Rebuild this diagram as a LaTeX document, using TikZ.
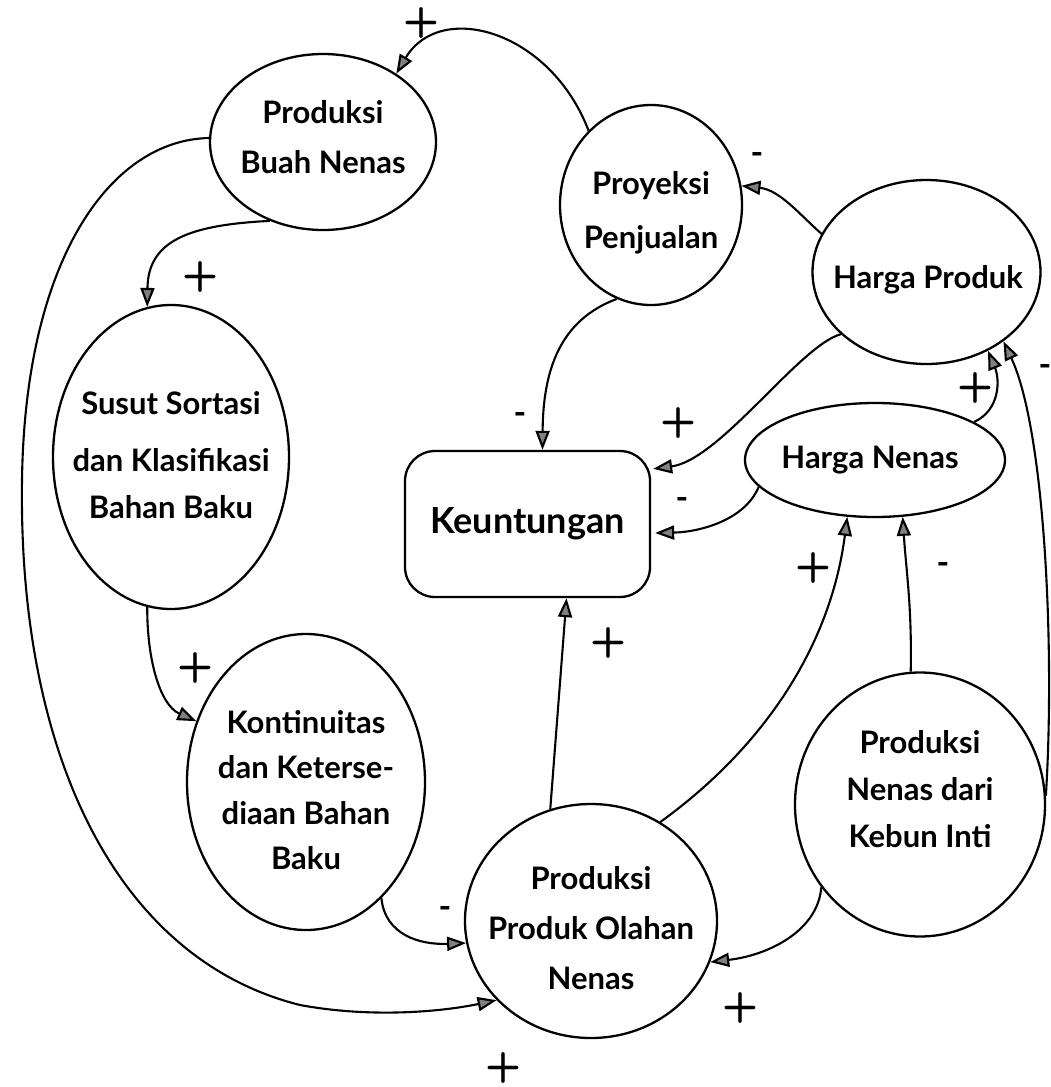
\documentclass[tikz,border=0pt]{standalone}
\usepackage{fontspec}
\setmainfont{Lato}
\usetikzlibrary{arrows.meta,shapes.geometric,calc}

\begin{document}
\begin{tikzpicture}[x=1pt,y=-1pt,
  oval/.style={draw, ellipse, line width=2.3pt, inner sep=0pt},
  txt/.style={align=center, inner sep=0pt, font=\fontsize{31}{50}\selectfont\bfseries},
  box/.style={draw, rectangle, rounded corners=30pt, line width=2.3pt,
    minimum width=245pt, minimum height=146pt, inner sep=0pt,
    font=\fontsize{36}{40}\selectfont\bfseries},
  link/.style={line width=2.1pt, -{Triangle[length=19pt,width=14pt,fill=black!50]}},
  plus/.style={inner sep=0pt, font=\sffamily\bfseries\fontsize{42}{42}\selectfont},
  minus/.style={inner sep=0pt, font=\bfseries\fontsize{34}{34}\selectfont},
]
\useasboundingbox (0,0) rectangle (1051,1087);

% variables
\node[oval, minimum width=226pt, minimum height=176pt] (pbn) at (323,142) {};
\node[txt] (pbn-t) at (323,137) {Produksi\\Buah Nenas};

\node[oval, minimum width=182pt, minimum height=200pt] (proy) at (651,205) {};
\node[txt, font=\fontsize{31}{54}\selectfont\bfseries] (proy-t) at (651,213) {Proyeksi\\Penjualan};

\node[oval, minimum width=228pt, minimum height=184pt] (hp) at (926.5,272) {};
\node[txt] (hp-t) at (928,280) {Harga Produk};

\node[oval, minimum width=260pt, minimum height=114pt] (hn) at (875,460) {};
\node[txt] (hn-t) at (870,460) {Harga Nenas};

\node[box] (keu) at (527.5,524) {Keuntungan};

\node[oval, minimum width=236pt, minimum height=304pt] (sus) at (171,457) {};
\node[txt, font=\fontsize{31}{47}\selectfont\bfseries] (sus-t) at (171,455) {Susut Sortasi\\[10pt]dan Klasifikasi\\Bahan Baku};

\node[oval, minimum width=238pt, minimum height=296pt] (kon) at (306,782) {};
\node[txt, font=\fontsize{31}{45.5}\selectfont\bfseries] (kon-t) at (306,790) {Kontinuitas\\dan Keterse-\\diaan Bahan\\Baku};

\node[oval, minimum width=252pt, minimum height=234pt] (ppo) at (591,921) {};
\node[txt] (ppo-t) at (591,928) {Produksi\\Produk Olahan\\Nenas};

\node[oval, minimum width=250pt, minimum height=264pt] (pnki) at (920,804.5) {};
\node[txt, font=\fontsize{31}{47}\selectfont\bfseries] (pnki-t) at (920,789) {Produksi\\Nenas dari\\Kebun Inti};

% causal links
\draw[link] (proy.130) .. controls (550,30) and (440,0) .. (pbn.43);
\draw[link] (pbn.236) .. controls (190,225) and (148,240) .. (sus.99);
\draw[link] (pbn.178) .. controls (110,140) and (25,260) .. (22,480)
  .. controls (18,760) and (120,960) .. (300,1005)
  .. controls (370,1018) and (440,1012) .. (ppo.220);
\draw[link] (sus.261) .. controls (147,660) and (160,705) .. (kon.151);
\draw[link] (kon.303) .. controls (385,935) and (420,945) .. (ppo.190);
\draw[link] (ppo.110) -- ($(keu.south)+(39,0)$);
\draw[link] (ppo.55) .. controls (760,750) and (830,650) .. (hn.244);
\draw[link] (pnki.94) .. controls (912,605) and (906,570) .. (hn.296);
\draw[link] (pnki.220) .. controls (818,930) and (770,955) .. (ppo.341);
\draw[link] (pnki.4) .. controls (1055,650) and (1045,430) .. (hp.318);
\draw[link] (hn.21) .. controls (1000,410) and (1000,380) .. (hp.308);
\draw[link] (hp.216) .. controls (800,345) and (720,460) .. ($(keu.north east)+(2,19)$);
\draw[link] (hn.193) .. controls (745,520) and (700,532) .. ($(keu.east)+(4,9)$);
\draw[link] (proy.250) .. controls (560,320) and (543,370) .. ($(keu.north)+(15,0)$);
\draw[link] (hp.160) .. controls (800,215) and (780,190) .. (proy.12);

% polarity signs
\node[plus] (s1) at (421,23) {+};
\node[plus] (s2) at (200,277) {+};
\node[minus] (s3) at (757,158) {-};
\node[minus] (s4) at (520,418) {-};
\node[plus] (s5) at (678,423) {+};
\node[plus] (s6) at (975,388) {+};
\node[minus] (s7) at (1045,370) {-};
\node[minus] (s8) at (682,503) {-};
\node[plus] (s9) at (813,568) {+};
\node[minus] (s10) at (943,568) {-};
\node[plus] (s11) at (608,643) {+};
\node[plus] (s12) at (195,668) {+};
\node[minus] (s13) at (445,912) {-};
\node[plus] (s14) at (740,1008) {+};
\node[plus] (s15) at (503,1068) {+};
\end{tikzpicture}
\end{document}
